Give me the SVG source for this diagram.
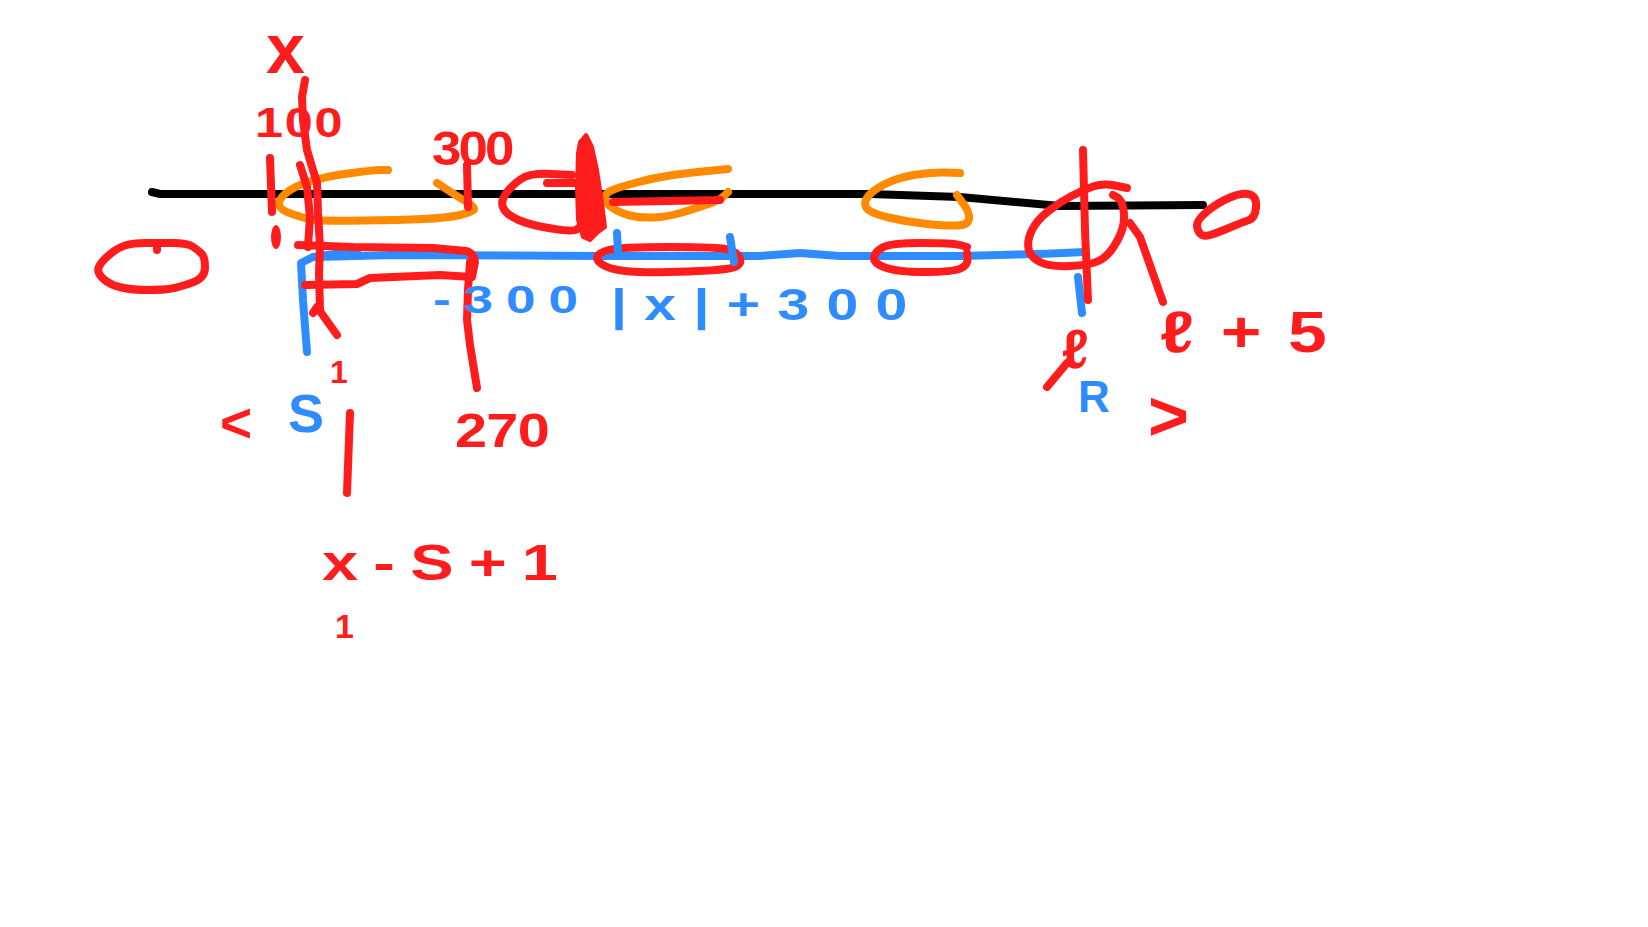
<svg xmlns="http://www.w3.org/2000/svg" width="1648" height="927" viewBox="0 0 1648 927">
<style>
.s{fill:none;stroke-width:8;stroke-linecap:round;stroke-linejoin:round}
.k{stroke:#000}
.r{stroke:#ff1c1c}
.o{stroke:#ff8a00}
.b{stroke:#2f8cff}
.t{font-family:"Liberation Sans","DejaVu Sans",sans-serif;font-weight:bold}
.tr{fill:#ff1c1c}
.tb{fill:#2f8cff}
</style>
<rect width="1648" height="927" fill="#fff"/>
<g id="lines">
<path class="s k" d="M152,192 L160,194 L870,194 L960,197 L1060,206 L1203,205"/>
<path class="s b" d="M307,352 L303,300 L301,263 L313,257 L357,256 L393,255 L600,256 L760,256 L800,253 L840,256 L960,256 L1040,254 L1085,252 M313,257 L357,251 M1078,277 L1082,313"/>
</g>
<g id="orange-ellipses">
<path class="s o" d="M388,170 L380.5,170 Q373,170 348,173.5 Q323,177 308,182 Q293,187 285.5,193.5 Q278,200 279,205 Q280,210 293.5,214.5 Q307,219 315,220 Q323,221 361.5,220.5 Q400,220 423.5,219 Q447,218 460,215 Q473,212 474,209.5 Q475,207 467.5,202.5 Q460,198 448.5,190.5 L437,183"/>
<path class="s o" d="M728,169 L707.5,171 Q687,173 670,175.5 Q653,178 636.5,182.5 Q620,187 612.5,190 Q605,193 605,198 Q605,203 612.5,208 Q620,213 630,215.5 Q640,218 653.5,217.5 Q667,217 682,212.5 Q697,208 708.5,204 Q720,200 724,196 L728,192"/>
<path class="s o" d="M960,173 L945,172.5 Q930,172 913.5,175 Q897,178 885,184 Q873,190 868,196.5 Q863,203 866.5,208 Q870,213 888.5,217.5 Q907,222 927,224 Q947,226 957.5,225.5 Q968,225 969,219 Q970,213 963.5,204 L957,195"/>
</g>
<g id="red-marks">
<path class="s r" d="M172,243 Q187,243 192.5,246.5 Q198,250 201.5,253.5 Q205,257 205,267.5 Q205,278 192.5,282.5 Q180,287 171.5,288.5 Q163,290 148,290 Q133,290 121.5,287.5 Q110,285 103.5,279 Q97,273 98.5,268 Q100,263 108.5,255.5 Q117,248 125,245.5 Q133,243 145,243 Q157,243 172,243 Z M157,243 L157,250"/>
<path class="s r" d="M305,80 L302,97 L303,120 L307,150 L313,170 L317,183 L318,213 L320,247 L319,273 L320,310"/>
<path class="s r" d="M300,165 L307,187 L310,217 L308,247"/>
<path class="s r" d="M313,313 L317,307 L337,335"/>
<path class="s r" d="M270,158 L272,212"/>
<ellipse cx="276" cy="237" rx="5" ry="12" fill="#ff1c1c"/>
<path class="s r" d="M467,165 L468,207"/>
<path class="s r" d="M298,245 L353,247 L433,248 L466,251 Q474,253 475,262 L472,277 L440,275 L370,278 L357,284 L305,285"/>
<path class="s r" d="M470,262 L468,290 L467,320 L470,345 L477,388"/>
<path class="s r" d="M350,413 L347,493"/>
<path class="s r" d="M572,175 L551,174 Q530,173 521,179 Q512,185 506,193.5 Q500,202 503.5,208.5 Q507,215 518.5,220 Q530,225 551.5,228.5 Q573,232 576.5,229.5 L580,227 M547,183 L577,183"/>
<path d="M586,135 L592,147 L597,170 L602,203 L605,227 L598,232 L590,240 L583,237 L578,220 L577,187 L578,153 L580,142 Z" fill="#ff1c1c" stroke="#ff1c1c" stroke-width="4" stroke-linejoin="round"/>
<path class="s r" d="M613,202 L720,200"/>
<path class="s r" d="M597,257.5 Q597,253 608.5,250 Q620,247 670,247 Q720,247 728.5,249.5 Q737,252 739.5,257.5 Q742,263 736,266.5 Q730,270 688.5,271.5 Q647,273 630,271.5 Q613,270 605,266 Q597,262 597,257.5 Z"/>
<path class="s r" d="M967,247 L960,245 Q953,243 921.5,243 Q890,243 882.5,247.5 Q875,252 874,257.5 Q873,263 885,267.5 Q897,272 925,272 Q953,272 960.5,268.5 Q968,265 967.5,259 L967,253"/>
<path class="s r" d="M1083,150 L1085,230 L1088,300"/>
<path class="s r" d="M1127,188 L1115,185.5 Q1103,183 1093,186.5 Q1083,190 1071.5,196 Q1060,202 1048.5,211 Q1037,220 1032,230 Q1027,240 1028.5,248.5 Q1030,257 1040,262 Q1050,267 1070,266 Q1090,265 1098.5,261 Q1107,257 1113.5,247 Q1120,237 1122.5,228.5 Q1125,220 1123.5,210 Q1122,200 1117.5,197.5 L1113,195"/>
<path class="s r" d="M1130,223 L1140,237 L1163,302"/>
<path class="s r" d="M1200,233.5 Q1197,230 1197,225 Q1197,220 1207,211.5 Q1217,203 1230,197.5 Q1243,192 1250,194.5 Q1257,197 1256,207.5 Q1255,218 1249,220 Q1243,222 1230,227.5 Q1217,233 1210,235 Q1203,237 1200,233.5 Z"/>
<path class="s r" d="M1047,387 L1067,363"/>
<path class="s b" d="M617,233 L618,252 M730,237 L734,262"/>
</g>
<g id="labels">
<text class="t tr" x="266" y="73" font-size="70">x</text>
<text class="t tr" transform="translate(255,137) scale(1.2,1)" font-size="42" textLength="73" lengthAdjust="spacing">100</text>
<text class="t tr" transform="translate(432,165) scale(1.1,1)" font-size="48" textLength="75" lengthAdjust="spacing">300</text>
<text class="t tb" transform="translate(433,313) scale(1.4,1)" font-size="38" textLength="103.6" lengthAdjust="spacing">-300</text>
<text class="t tb" transform="translate(611,320) scale(1.3,1)" font-size="44" textLength="228" lengthAdjust="spacing">|x|+300</text>
<text class="t tr" x="330" y="383" font-size="32">1</text>
<text class="t tr" x="220" y="442" font-size="55">&lt;</text>
<text class="t tb" x="288" y="432" font-size="54">S</text>
<text class="t tr" transform="translate(455,447) scale(1.2,1)" font-size="48" textLength="79" lengthAdjust="spacing">270</text>
<text class="t tr" transform="translate(322,580) scale(1.3,1)" font-size="50" textLength="181.5" lengthAdjust="spacing">x-S+1</text>
<text class="t tr" x="335" y="638" font-size="34">1</text>
<text class="t tr" transform="translate(1160,352) scale(1.2,1)" font-size="58" textLength="139" lengthAdjust="spacing">ℓ+5</text>
<text class="t tr" x="1062" y="368" font-size="55">ℓ</text>
<text class="t tb" x="1078" y="412" font-size="44">R</text>
<text class="t tr" x="1148" y="440" font-size="70">&gt;</text>
</g>
</svg>
